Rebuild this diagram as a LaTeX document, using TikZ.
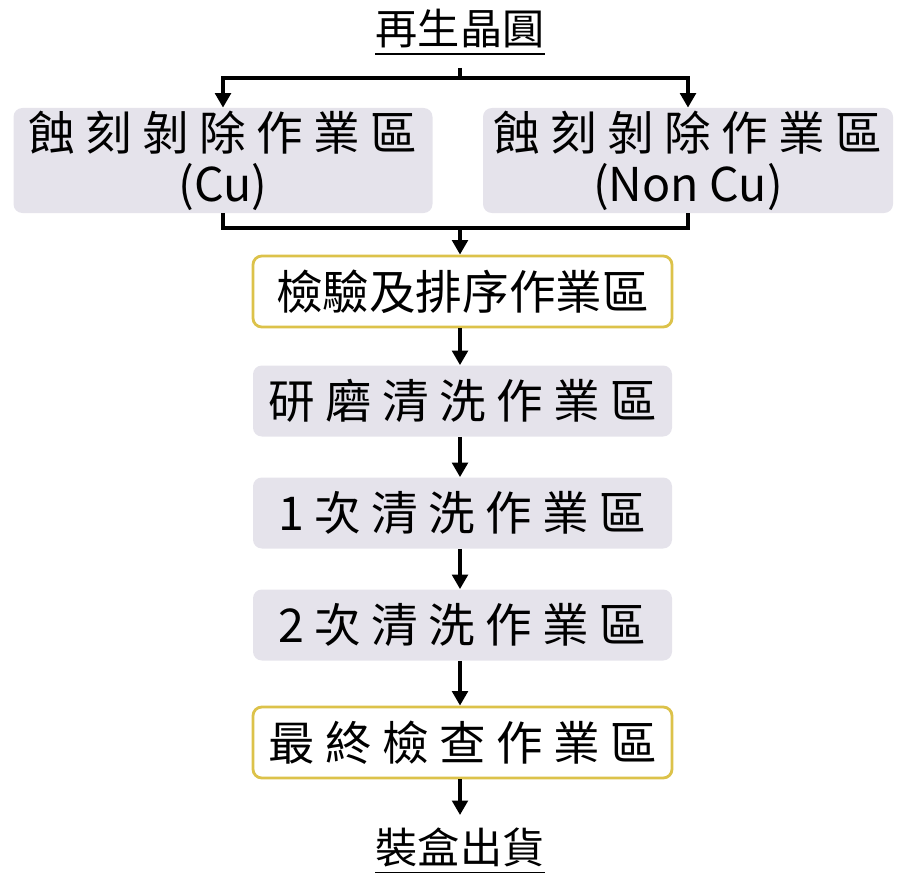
\documentclass[tikz,border=0pt]{standalone}
\usepackage{fontspec}
\usepackage{tikz}
\usetikzlibrary{positioning,arrows.meta,calc}
\setmainfont{Noto Sans CJK TC}
\definecolor{grayF}{HTML}{E5E3EB}
\definecolor{yellowE}{HTML}{DCC24A}

\begin{document}
\begin{tikzpicture}[
    >={Triangle[length=2.9mm,width=3.1mm]},
    font=\fontsize{26.5pt}{34pt}\selectfont,
    work/.style={rounded corners=5pt,fill=grayF,draw=none,
                 minimum width=8.38cm,minimum height=1.42cm,inner sep=0pt},
    check/.style={work,fill=white,draw=yellowE,line width=1.6pt},
    etch/.style={work,minimum height=2.1cm,align=center,
                 font=\fontsize{26.5pt}{29pt}\selectfont},
    flow/.style={->,line width=2.2pt},
    link/.style={line width=2.2pt},
    label/.style={font=\fontsize{24pt}{30pt}\selectfont,inner sep=0pt},
]
\useasboundingbox (0,0) rectangle (18.04,-17.58);

% =====================================================================
%  start: title and split into the two etching areas
% =====================================================================
\node[label] (start) at (9.2,-0.58) {再生晶圓};
\draw[line width=0.9pt] ($(start.south west)+(0,-0.1)$) -- ($(start.south east)+(0,-0.1)$);

\node[etch] (etchL) at (4.46,-3.21) {蝕 刻 剝 除 作 業 區\\(Cu)};
\node[etch,minimum width=8.2cm] (etchR) at (13.76,-3.21) {蝕 刻 剝 除 作 業 區\\(Non Cu)};

\coordinate (split) at (9.2,-1.56);
\draw[link] ($(start.south)+(0,-0.38)$) -- (split);
\draw[flow] (split) -| (etchL.north);
\draw[flow] (split) -| (etchR.north);

% =====================================================================
%  main line of work areas
% =====================================================================
\node[check] (insp)  at (9.25,-5.83)  {檢驗及排序作業區};
\node[work]  (grind) at (9.25,-8.02)  {研 磨 清 洗 作 業 區};
\node[work]  (wash1) at (9.25,-10.26) {1 次 清 洗 作 業 區};
\node[work]  (wash2) at (9.25,-12.5)  {2 次 清 洗 作 業 區};
\node[check] (final) at (9.25,-14.85) {最 終 檢 查 作 業 區};

% both etching areas merge into inspection
\coordinate (merge) at (9.2,-4.56);
\draw[link] (etchL.south) |- (merge);
\draw[link] (etchR.south) |- (merge);
\draw[flow] (merge) -- (merge |- insp.north);

\foreach \a/\b in {insp/grind,grind/wash1,wash1/wash2,wash2/final}
   \draw[flow] (\a.south -| merge) -- (\b.north -| merge);

% =====================================================================
%  end: shipping
% =====================================================================
\node[label] (ship) at (9.2,-16.95) {裝盒出貨};
\draw[line width=0.9pt] ($(ship.south west)+(0,-0.1)$) -- ($(ship.south east)+(0,-0.1)$);
\draw[flow] (final.south -| merge) -- ($(ship.north -| merge)+(0,0.25)$);

\end{tikzpicture}
\end{document}
